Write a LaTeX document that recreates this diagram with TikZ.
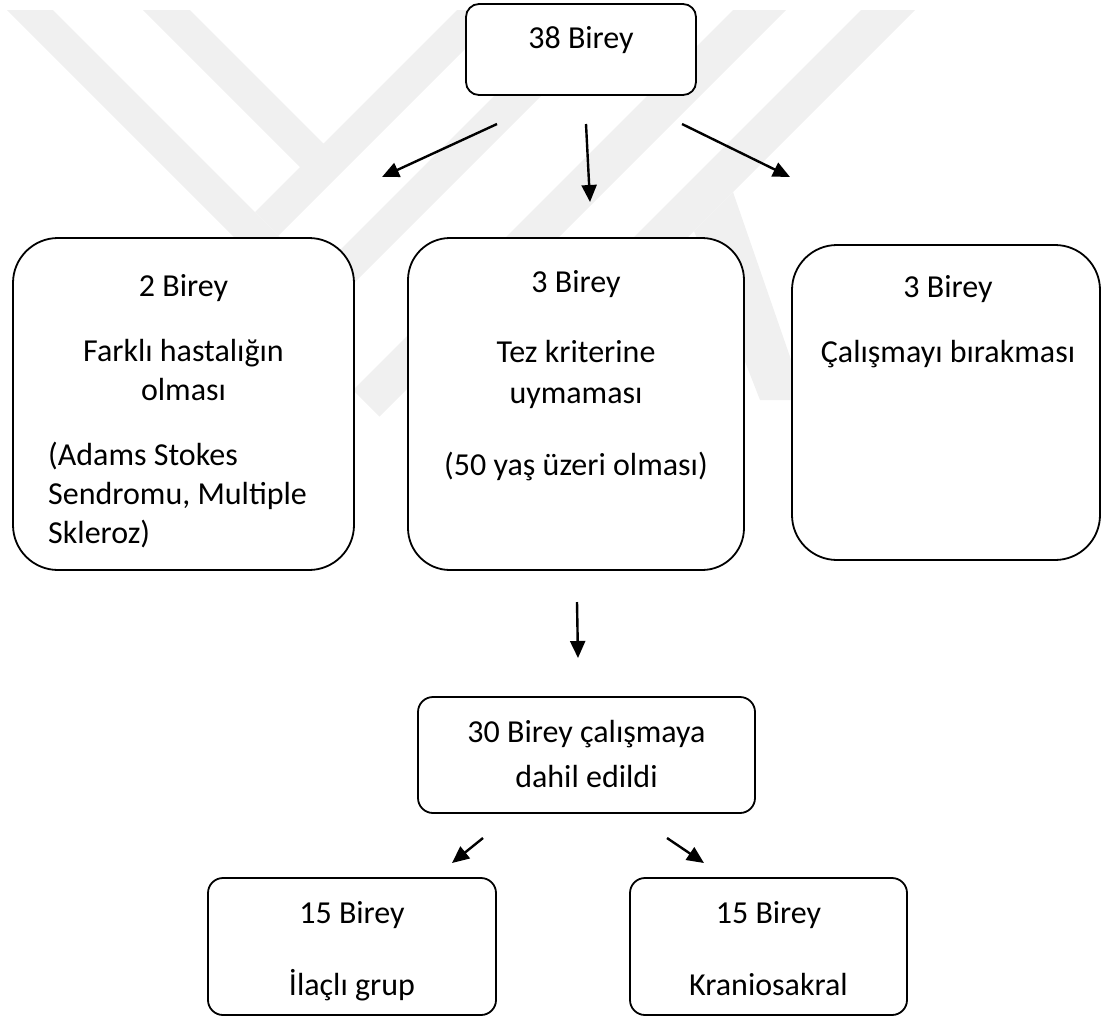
\documentclass[tikz,border=0pt]{standalone}
\usepackage{fontspec}
\setmainfont{Carlito}
\usetikzlibrary{arrows.meta}
\tikzset{
  box/.style={draw, line width=1.8pt, fill=white, inner sep=0pt, rounded corners=#1},
  lbl/.style={font=\fontsize{32pt}{39pt}\selectfont, inner sep=0pt, align=center},
  arr/.style={line width=2.4pt, -{Triangle[length=17pt,width=15pt]}},
  wm/.style={fill=black!6}
}
\begin{document}
\begin{tikzpicture}[x=1pt,y=-1pt]
		\useasboundingbox (0,0) rectangle (1103,1018);
		% watermark in the background
		\fill[wm] (7,10) -- (53,10) -- (316.5,273.5) -- (580,10) -- (627,10) -- (317,320) -- cycle;
		\fill[wm] (143,10) -- (190,10) -- (323.5,143.5) -- (457,10) -- (504,10) -- (278.5,235.5) -- (255,212) -- (300,167) -- cycle;
		\fill[wm] (733,10) -- (786,10) -- (379.5,416.5) -- (353,390) -- cycle;
		\fill[wm] (861,10) -- (915,10) -- (625,300) -- (571,300) -- cycle;
		\fill[wm] (694,231) -- (733,192) -- (805,400) -- (760,400) -- cycle;
		% boxes
		\node[box=13pt, minimum width=230pt, minimum height=91pt] (b38) at (581,49.5) {};
		\node[box=45pt, minimum width=341pt, minimum height=332pt] (b2) at (183.5,404) {};
		\node[box=42pt, minimum width=336pt, minimum height=332pt] (b3) at (576,404) {};
		\node[box=45pt, minimum width=308pt, minimum height=315pt] (b4) at (946,402.5) {};
		\node[box=15pt, minimum width=337pt, minimum height=116pt] (b30) at (586.5,755) {};
		\node[box=15pt, minimum width=288pt, minimum height=137pt] (b15a) at (352,946.5) {};
		\node[box=15pt, minimum width=277pt, minimum height=137pt] (b15b) at (768.5,946.5) {};
		% texts (base = last line)
		\node[lbl, anchor=base] (t38) at (581,48) {38 Birey};
		\node[lbl, anchor=base] (t2) at (183.5,400) {2 Birey\\[26pt] Farklı hastalığın\\ olması};
		\node[lbl, align=left, anchor=base west] (t2b) at (48,543) {(Adams Stokes\\ Sendromu, Multiple\\ Skleroz)};
		\node[lbl, anchor=base] (t3) at (576,475) {3 Birey\\[31pt] Tez kriterine\\[2pt] uymaması\\[33pt] (50 yaş üzeri olması)};
		\node[lbl, anchor=base] (t4) at (948,362) {3 Birey\\[26pt] Çalışmayı bırakması};
		\node[lbl, anchor=base] (t30) at (586.5,787) {30 Birey çalışmaya\\[6pt] dahil edildi};
		\node[lbl, anchor=base] (t15a) at (352,995) {15 Birey\\[33pt] İlaçlı grup};
		\node[lbl, anchor=base] (t15b) at (768.5,995) {15 Birey\\[33pt] Kraniosakral};
		% arrows
		\coordinate (a1s) at (497,124); \coordinate (a1e) at (382,177);
		\coordinate (a2s) at (586,124); \coordinate (a2e) at (590,202);
		\coordinate (a3s) at (682,124); \coordinate (a3e) at (790,177);
		\coordinate (a4s) at (577,602); \coordinate (a4e) at (578,658);
		\coordinate (a5s) at (483,838); \coordinate (a5e) at (452,863);
		\coordinate (a6s) at (667,838); \coordinate (a6e) at (704,863);
		\draw[arr] (a1s) -- (a1e);
		\draw[arr] (a2s) -- (a2e);
		\draw[arr] (a3s) -- (a3e);
		\draw[arr] (a4s) -- (a4e);
		\draw[arr] (a5s) -- (a5e);
		\draw[arr] (a6s) -- (a6e);
	\end{tikzpicture}
\end{document}
